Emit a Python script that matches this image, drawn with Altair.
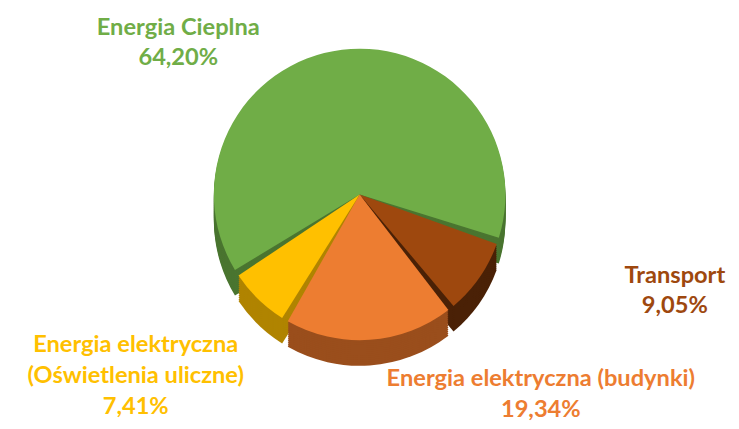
import math
import altair as alt
import pandas as pd

categories = [
    "Energia Cieplna",
    "Transport",
    "Energia elektryczna (budynki)",
    "Energia elektryczna (Oświetlenia uliczne)",
]
shares = [64.20, 9.05, 19.34, 7.41]
share_text = ["64,20%", "9,05%", "19,34%", "7,41%"]
label_names = [
    "Energia Cieplna",
    "Transport",
    "Energia elektryczna (budynki)",
    "Energia elektryczna\n(Oświetlenia uliczne)",
]
colors = ["#70AD47", "#9E480E", "#ED7D31", "#FFC000"]
side_colors = ["#4A7530", "#4A2106", "#9A4E1C", "#B08400"]
slice_order = [0, 1, 2, 3]

df = pd.DataFrame({
    "cat": categories,
    "share": shares,
    "order": slice_order,
    "label": [n + "\n" + s for n, s in zip(label_names, share_text)],
})

start = math.radians(-122.5)
theta_scale = alt.Scale(domain=[0, 100], range=[start, start + 2 * math.pi])

CX, CY, R = 352, 176, 148

base = (
    alt.Chart(df)
    .transform_stack(stack="share", as_=["s0", "s1"], groupby=[], sort=[alt.SortField("order")])
    .transform_calculate(mid="(datum.s0 + datum.s1) / 2")
)

side_color = alt.Color("cat:N", scale=alt.Scale(domain=categories, range=side_colors), legend=None)
top_color = alt.Color("cat:N", scale=alt.Scale(domain=categories, range=colors), legend=None)

arc_enc = dict(theta=alt.Theta("s0:Q", scale=theta_scale), theta2="s1:Q")

side_layers = []
for off in range(26, 0, -2):
    side_layers.append(
        base.mark_arc(outerRadius=R, padAngle=0.045, x=CX, y=CY, yOffset=off).encode(color=side_color, **arc_enc)
    )
sides = alt.layer(*side_layers)
top = base.mark_arc(outerRadius=R, padAngle=0.045, x=CX, y=CY).encode(color=top_color, **arc_enc)

label_style = [
    (categories[0], 150, -166, -20),
    (categories[1], 200, 156, -32),
    (categories[2], 200, 170, -12),
    (categories[3], 200, -88, 10),
]
label_layers = []
for cat, rad, dx, dy in label_style:
    label_layers.append(
        base.transform_filter(alt.datum.cat == cat)
        .mark_text(
            radius=rad, x=CX, y=CY, align="center", dx=dx, dy=dy,
            lineBreak="\n", font="Lato", fontWeight="bold", fontSize=24, lineHeight=31,
        )
        .encode(theta=alt.Theta("mid:Q", scale=theta_scale), text="label:N", color=top_color)
    )
labels = alt.layer(*label_layers)

chart = (
    alt.layer(sides, top, labels)
    .resolve_scale(color="independent")
    .properties(width=723, height=413)
    .configure_view(stroke=None)
)

chart.save("out.html", embed_options={"renderer": "svg", "actions": False})
